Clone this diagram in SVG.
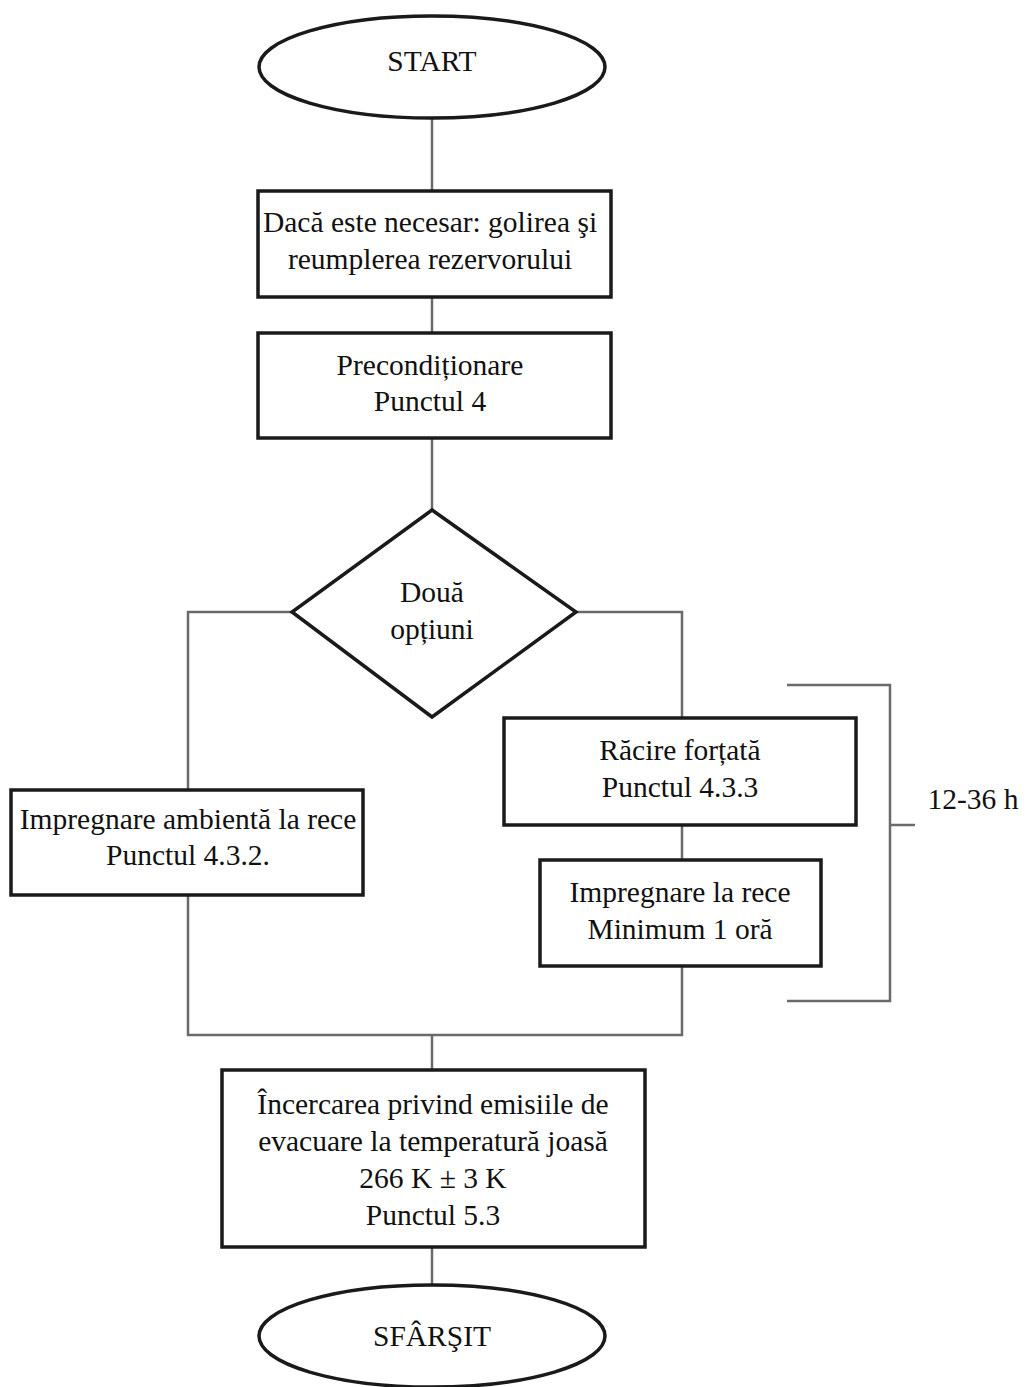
<svg xmlns="http://www.w3.org/2000/svg" width="1029" height="1387" viewBox="0 0 1029 1387">
  <style>
    .shape { fill: #ffffff; stroke: #1a1a1a; stroke-width: 3.5; }
    .wire { fill: none; stroke: #6a6a6a; stroke-width: 2.5; }
    .label { font-family: "Liberation Serif", "Times New Roman", serif; font-size: 29.5px; fill: #111111; text-anchor: middle; }
  </style>
  <rect x="0" y="0" width="1029" height="1387" fill="#ffffff"/>

  <!-- connectors -->
  <g id="connectors">
    <line class="wire" x1="432" y1="119" x2="432" y2="191"/>
    <line class="wire" x1="432" y1="297" x2="432" y2="333"/>
    <line class="wire" x1="432" y1="438" x2="432" y2="510"/>
    <!-- left branch -->
    <polyline class="wire" points="292,612 188,612 188,790"/>
    <!-- right branch -->
    <polyline class="wire" points="576,612 682,612 682,718"/>
    <line class="wire" x1="682" y1="825" x2="682" y2="860"/>
    <!-- merge -->
    <polyline class="wire" points="188,895 188,1035 682,1035 682,966"/>
    <line class="wire" x1="432" y1="1035" x2="432" y2="1070"/>
    <line class="wire" x1="432" y1="1247" x2="432" y2="1285"/>
    <!-- duration bracket -->
    <polyline class="wire" points="787,685 890,685 890,1001 787,1001"/>
    <line class="wire" x1="890" y1="825" x2="915" y2="825"/>
  </g>

  <g id="start">
    <ellipse class="shape" cx="432" cy="67" rx="173" ry="51"/>
    <text class="label" x="432" y="71">START</text>
  </g>

  <g id="golire">
    <rect class="shape" x="258" y="191" width="353" height="106"/>
    <text class="label" x="430" y="232">Dacă este necesar: golirea şi</text>
    <text class="label" x="430" y="269">reumplerea rezervorului</text>
  </g>

  <g id="preconditionare">
    <rect class="shape" x="258" y="333" width="353" height="105"/>
    <text class="label" x="430" y="375">Precondiționare</text>
    <text class="label" x="430" y="411">Punctul 4</text>
  </g>

  <g id="optiuni">
    <polygon class="shape" points="432,510 576,612 432,717 292,612"/>
    <text class="label" x="432" y="602">Două</text>
    <text class="label" x="432" y="639">opțiuni</text>
  </g>

  <g id="impregnare-ambienta">
    <rect class="shape" x="11" y="790" width="352" height="105"/>
    <text class="label" x="188" y="829">Impregnare ambientă la rece</text>
    <text class="label" x="188" y="865">Punctul 4.3.2.</text>
  </g>

  <g id="racire-fortata">
    <rect class="shape" x="504" y="718" width="352" height="107"/>
    <text class="label" x="680" y="760">Răcire forțată</text>
    <text class="label" x="680" y="797">Punctul 4.3.3</text>
  </g>

  <g id="impregnare-rece">
    <rect class="shape" x="540" y="860" width="281" height="106"/>
    <text class="label" x="680" y="902">Impregnare la rece</text>
    <text class="label" x="680" y="939">Minimum 1 oră</text>
  </g>

  <g id="durata">
    <text class="label" x="973" y="809">12-36 h</text>
  </g>

  <g id="incercare">
    <rect class="shape" x="222" y="1070" width="423" height="177"/>
    <text class="label" x="433" y="1114">Încercarea privind emisiile de</text>
    <text class="label" x="433" y="1151">evacuare la temperatură joasă</text>
    <text class="label" x="433" y="1188">266 K ± 3 K</text>
    <text class="label" x="433" y="1225">Punctul 5.3</text>
  </g>

  <g id="sfarsit">
    <ellipse class="shape" cx="432" cy="1336" rx="173" ry="51"/>
    <text class="label" x="432" y="1346">SFÂRŞIT</text>
  </g>
</svg>
